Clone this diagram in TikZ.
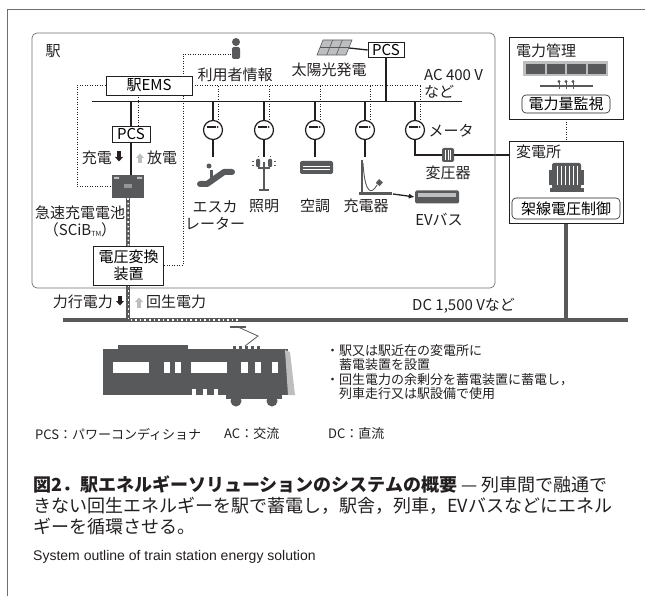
\documentclass[tikz,border=0pt]{standalone}
\usepackage{fontspec}
\setmainfont{Noto Sans CJK JP}
\newfontfamily\latinsans{Liberation Sans}
\usetikzlibrary{arrows.meta,positioning,backgrounds}

\definecolor{ink}{HTML}{231F20}
\definecolor{iconGray}{HTML}{58595B}
\definecolor{paleGray}{HTML}{BCBEC0}
\definecolor{frameGray}{HTML}{6D6E71}

\tikzset{
  lbl/.style={font=\fontsize{15}{17}\selectfont, text=ink, inner sep=0pt},
  note/.style={font=\fontsize{13}{14.5}\selectfont, text=ink, inner sep=0pt},
  caption/.style={anchor=west, inner sep=0pt, text=ink, font=\fontsize{18}{21}\selectfont},
  box/.style={draw=ink, line width=.6pt, fill=white, inner sep=1pt, font=\fontsize{15}{17}\selectfont},
  tagbox/.style={box, rounded corners=4pt},
  panel/.style={draw=ink, line width=.6pt, minimum width=114, minimum height=82, inner sep=0pt},
  wire/.style={draw=ink, line width=1.3pt},
  signal/.style={draw=ink, line width=.9pt, dash pattern=on .9pt off 1.6pt},
  trunk/.style={draw=iconGray, line width=4.5pt},
  regen/.style={draw=white, line width=1.6pt, dash pattern=on 1.6pt off 3pt},
  meter/.style={circle, draw=ink, line width=1.2pt, fill=white, minimum size=19pt, inner sep=0pt,
    path picture={
      \fill[ink] ([shift={(-6.5pt,1.8pt)}]path picture bounding box.center) rectangle ++(9pt,2.6pt);
      \fill[ink] ([shift={(4.6pt,3pt)}]path picture bounding box.center) circle (1pt);}},
  pics/flowdown/.style={code={
    \fill[#1] (-1.8,-5.5) rectangle (1.8,0.5);
    \fill[#1] (-4,0) -- (4,0) -- (0,4.5) -- cycle;}},
  pics/flowup/.style={code={
    \fill[#1] (-1.8,5.5) rectangle (1.8,-0.5);
    \fill[#1] (-4,0) -- (4,0) -- (0,-4.5) -- cycle;}},
}

\begin{document}
\begin{tikzpicture}[x=1pt,y=-1pt]
\useasboundingbox (0,0) rectangle (645,596);

% page frame and station area
\draw[frameGray, line width=.8pt] (645,9) -- (7,9) -- (7,596);
\draw[frameGray, line width=.7pt, rounded corners=5pt] (32,33) rectangle (495,288);
\node[lbl] (stationLbl) at (53,51) {駅};

% AC bus and DC overhead line
\coordinate (busL) at (92,101.5);
\coordinate (busR) at (462,101.5);
\coordinate (dcL) at (63,320);
\coordinate (dcR) at (628,320);

% solar, user info
\fill[iconGray] (236,42) circle (4);
\fill[iconGray, rounded corners=2pt] (232,47) rectangle (240,59);
\coordinate (person) at (231,54);
\node[lbl] (userInfo) at (235,75) {利用者情報};
\filldraw[fill=paleGray, draw=iconGray, line width=.6pt] (317,55) -- (323,40) -- (352,40) -- (346,55) -- cycle;
\draw[iconGray, line width=.6pt] (326.7,55) -- (332.7,40) (336.3,55) -- (342.3,40) (320,47.5) -- (349,47.5);
\coordinate (panel) at (349,48);
\node[box, minimum width=36, minimum height=15] (pcsSolar) at (386,50) {PCS};
\node[lbl] (solarLbl) at (329,70) {太陽光発電};
\node[lbl, anchor=north west, align=left] (acLbl) at (424,69) {AC 400 V\\など};

% EMS, PCS, battery, converter
\node[box, minimum width=86, minimum height=19] (ems) at (149,85.5) {駅EMS};
\node[box, minimum width=38, minimum height=16] (pcsBat) at (131,134) {PCS};
\node[lbl, anchor=east] (chargeLbl) at (112,158) {充電};
\pic at (119,157) {flowdown=ink};
\pic at (140,158) {flowup=paleGray};
\node[lbl, anchor=west] (dischargeLbl) at (147,158) {放電};
\node[fill=iconGray, minimum width=32, minimum height=23, inner sep=0pt] (battery) at (128,186.5) {};
\fill[paleGray] (114,177) rectangle ++(5,2) (137,177) rectangle ++(5,2);
\fill[paleGray!60!iconGray] (124,184) rectangle ++(8,4);
\node[lbl, align=center] (batteryLbl) at (80,221) {急速充電電池\\（SCiB\raisebox{-1pt}{\fontsize{7}{7}\selectfont TM}）};
\node[box, minimum width=70, minimum height=39, align=center] (converter) at (128.5,265.5) {電圧変換\\装置};

% meters
\foreach \i/\x in {1/213,2/264,3/315,4/365,5/415}
  \node[meter] (m\i) at (\x,130) {};
\node[lbl] (meterLbl) at (451,131) {メータ};
\node[fill=iconGray, rounded corners=2pt, minimum width=12, minimum height=14, inner sep=0pt] (xfmr) at (448,155) {};
\draw[white, line width=.7pt] (445.5,150) -- (445.5,160) (448,150) -- (448,160) (450.5,150) -- (450.5,160);
\node[lbl] (xfmrLbl) at (448,173) {変圧器};

% loads
\draw[iconGray, line width=6pt, line cap=round, line join=round] (200,184) -- (207,184) -- (224,172) -- (232,172);
\fill[iconGray] (209,166) circle (2.5);
\draw[iconGray, line width=2.5pt] (211.5,170) -- (211.5,180);
\draw[iconGray, line width=1.5pt] (264,162) -- (264,190) (259,190) -- (269,190) (258,168) -- (270,168);
\fill[iconGray, rounded corners=1pt] (256,159) rectangle ++(4,8) (268,159) rectangle ++(4,8);
\draw[iconGray, line width=.6pt] (252,161) -- (254,161) (252,165) -- (254,165) (274,161) -- (276,161) (274,165) -- (276,165)
  (258,156) -- (258,157.5) (270,156) -- (270,157.5);
\fill[iconGray, rounded corners=2pt] (300,161) rectangle (333,174);
\draw[white, line width=.8pt] (303,166) -- (330,166) (303,169) -- (330,169);
\draw[iconGray, line width=1.6pt] (362,160) -- (362,194);
\draw[iconGray, line width=3pt] (359,194) -- (392,194);
\draw[iconGray, line width=.9pt] (363,163) .. controls (365,196) and (372,194) .. (377,185);
\fill[iconGray, rotate around={-40:(379,183)}] (376.5,180) rectangle ++(5,5);
\coordinate (chargerEnd) at (393,194);
\node[fill=iconGray, rounded corners=1.5pt, minimum width=44, minimum height=13, inner sep=0pt] (evBus) at (437,197) {};
\fill[paleGray] (418,193) rectangle (456,197.5);
\node[lbl, align=center] (escLbl) at (215,215) {エスカ\\レーター};
\node[lbl] (lightLbl) at (264,206) {照明};
\node[lbl] (acUnitLbl) at (315,206) {空調};
\node[lbl] (chargerLbl) at (366,206) {充電器};
\node[lbl] (evLbl) at (439,220) {EVバス};

% power management and substation
\node[panel] (mgmt) at (566,78) {};
\node[lbl, anchor=west] (mgmtLbl) at (516,51) {電力管理};
\fill[paleGray] (523,61) rectangle (608,76);
\foreach \a/\b in {526/545,547/565,567/586,588/606}
  \fill[iconGray] (\a,64) rectangle (\b,74);
\draw[iconGray, line width=1.5pt] (540,86) -- (593,86);
\foreach \a in {559,566,573} {
  \fill[iconGray] (\a,81.5) circle (1.7);
  \draw[iconGray, line width=1pt] (\a,81.5) -- (\a,89);
}
\node[tagbox, minimum width=88, minimum height=18] (monitorLbl) at (566,104) {電力量監視};
\node[panel] (substation) at (566,182) {};
\node[lbl, anchor=west] (subLbl) at (516,152) {変電所};
\fill[iconGray] (549,170) rectangle (584,185);
\fill[iconGray, rounded corners=2pt] (552,163) rectangle (581,189);
\fill[iconGray] (550,188) rectangle (584,192);
\foreach \a in {557,561,565,569,573,577}
  \draw[white, line width=1pt] (\a,166) -- (\a,185);
\node[tagbox, minimum width=108, minimum height=21] (overheadLbl) at (566,208.5) {架線電圧制御};

% train
\fill[iconGray] (118,345) rectangle (188,350);
\fill[iconGray] (103,349) rectangle (288,395);
\fill[paleGray] (285,350) -- (290,352) -- (295,395) -- (288,395) -- cycle;
\foreach \a/\b in {113/149,164/170,175/181,191/227,241/248,255/261,272/278}
  \fill[white] (\a,362) rectangle (\b,373);
\foreach \a in {192,203,214}
  \fill[white] (\a,389) rectangle ++(4,6);
\fill[iconGray] (226,395) rectangle (282,399);
\fill[iconGray] (236,401) circle (5.5) (272,401) circle (5.5);
\foreach \a in {233,239,245,251,257}
  \fill[iconGray] (\a,346) rectangle ++(3,3);
\draw[iconGray, line width=.8pt] (245,346) -- (258,336) -- (238,327);
\draw[iconGray, line width=1.5pt] (230,327) -- (246,327);
\coordinate (panto) at (238,320);

\node[lbl, anchor=east] (driveLbl) at (113,302) {力行電力};
\pic at (120,301) {flowdown=ink};
\pic at (139,302) {flowup=paleGray};
\node[lbl, anchor=west] (regenLbl) at (146,302) {回生電力};
\node[lbl, anchor=west] (dcLbl) at (412,306) {DC 1,500 Vなど};

\node[note, anchor=north west, align=left] (benefits) at (326,344)
  {・駅又は駅近在の変電所に\\\hspace*{1em}蓄電装置を設置\\・回生電力の余剰分を蓄電装置に蓄電し，\\\hspace*{1em}列車走行又は駅設備で使用};

% legend and caption
\node[note, anchor=west] (legendPcs) at (35,434) {PCS：パワーコンディショナ};
\node[note, anchor=west] (legendAc) at (224,434) {AC：交流};
\node[note, anchor=west] (legendDc) at (328,434) {DC：直流};
\node[caption] (caption1) at (33,484)
  {\textbf{図2．駅エネルギーソリューションのシステムの概要} — 列車間で融通で};
\node[caption] (caption2) at (33,506)
  {きない回生エネルギーを駅で蓄電し，駅舎，列車，EVバスなどにエネル};
\node[caption] (caption3) at (33,527)
  {ギーを循環させる。};
\node[anchor=west, inner sep=0pt, text=ink, font=\latinsans\fontsize{14}{16}\selectfont] (captionEn) at (33,557)
  {System outline of train station energy solution};

% connections
\begin{scope}[on background layer]
  \draw[wire] (busL) -- (busR);
  \draw[wire] (pcsSolar.south) -- (pcsSolar.south |- busL);
  \draw[wire] (panel) -- (pcsSolar.west);
  \draw[wire] (pcsBat.center |- busL) -- (pcsBat.center |- battery.north);
  \draw[signal] ([xshift=7pt]pcsBat.north) -- ([xshift=7pt]pcsBat.north |- ems.south);
  \draw[signal] (ems.west) -- (77,85.5) |- (battery.west);
  \draw[signal] (ems.east) -- ([xshift=5pt]m5.north |- ems.east);
  \draw[signal] (person) -- (183,54) |- (converter.east);
  \foreach \i in {1,...,5} {
    \draw[wire] (m\i.north) -- (m\i.north |- busL);
    \draw[signal] ([xshift=5pt]m\i.north) -- ([xshift=5pt]m\i.north |- ems.east);
  }
  \foreach \i in {1,...,4}
    \draw[wire] (m\i.south) -- ++(0,17);
  \draw[wire] (m5.south) |- (xfmr.west);
  \draw[wire] (xfmr.east) -- (xfmr.east -| substation.west);
  \draw[signal] (mgmt.south) -- (substation.north);
  \draw[trunk] (dcL) -- (dcR);
  \draw[trunk] (substation.south) -- (substation.south |- dcR);
  \draw[trunk] (battery.south) -- (battery.south |- dcL);
  \draw[regen] (battery.south) -- (converter.north);
  \draw[regen] (converter.south) -- (converter.south |- dcL) -- (panto);
\end{scope}
\draw[-{Latex[length=6pt,width=5pt]}, ink, line width=1.3pt] (chargerEnd) -- (evBus.west);
\end{tikzpicture}
\end{document}
